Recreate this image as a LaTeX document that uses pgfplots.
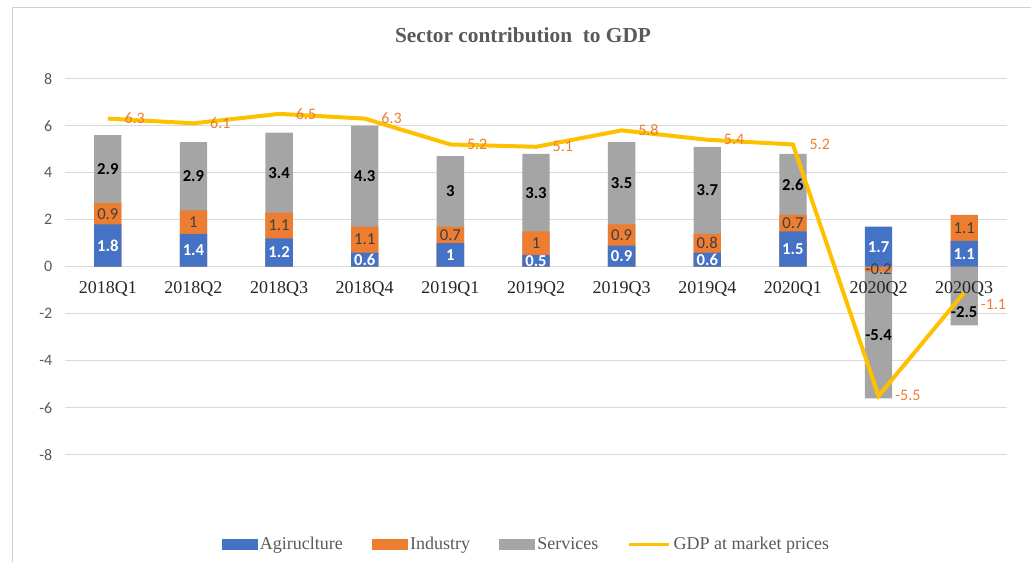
\documentclass[border=0pt]{standalone}
\usepackage{pgfplots}
\pgfplotsset{compat=1.18}
\usepackage{pgfplotstable}
\usepackage{fontspec}
\setmainfont{Liberation Serif}
\newfontfamily\carlito{Carlito}
\definecolor{cblue}{HTML}{4472C4}
\definecolor{corange}{HTML}{ED7D31}
\definecolor{cgray}{HTML}{A5A5A5}
\definecolor{cgold}{HTML}{FFC000}
\definecolor{gridgray}{HTML}{D9D9D9}
\definecolor{txtgray}{HTML}{595959}
\definecolor{framegray}{HTML}{D0D0D0}
\definecolor{indtxt}{HTML}{404040}

\pgfplotstableread{
x q a i s g
0 2018Q1 1.8 0.9 2.9 6.3
1 2018Q2 1.4 1 2.9 6.1
2 2018Q3 1.2 1.1 3.4 6.5
3 2018Q4 0.6 1.1 4.3 6.3
4 2019Q1 1 0.7 3 5.2
5 2019Q2 0.5 1 3.3 5.1
6 2019Q3 0.9 0.9 3.5 5.8
7 2019Q4 0.6 0.8 3.7 5.4
8 2020Q1 1.5 0.7 2.6 5.2
9 2020Q2 1.7 -0.2 -5.4 -5.5
10 2020Q3 1.1 1.1 -2.5 -1.1
}\data

\begin{document}
\begin{tikzpicture}
\path[use as bounding box] (0pt,0pt) rectangle (773.25pt,421.5pt);
\draw[framegray, line width=0.75pt] (9.5pt,0pt) -- (9.5pt,416pt) -- (773.25pt,416pt);
\node[font=\bfseries\fontsize{16}{19}\selectfont, text=txtgray] at (392.25pt,395pt) {Sector contribution~ to GDP};
\begin{axis}[
  at={(48.75pt,80.5pt)}, anchor=south west,
  scale only axis, width=706.5pt, height=282pt,
  xmin=-0.5, xmax=10.5, ymin=-8, ymax=8,
  ytick={-8,-6,-4,-2,0,2,4,6,8},
  xtick=\empty,
  axis line style={draw=none},
  major tick length=0pt,
  ymajorgrids, grid style={color=gridgray, line width=1pt},
  /pgf/number format/assume math mode=true,
  yticklabel style={font=\carlito\fontsize{12}{14}\selectfont, text=txtgray, anchor=east, xshift=-6pt},
  clip=false,
  legend columns=-1,
  legend style={at={(0.4904,-0.2385)}, anchor=center, draw=none, fill=none,
    font=\fontsize{13.5}{15}\selectfont, text=txtgray,
    /tikz/every even column/.append style={column sep=20pt},
    nodes={inner sep=2pt}},
]
\addlegendimage{legend image code/.code={\fill[cblue] (0pt,-3.6pt) rectangle (26pt,3.6pt);}}
\addlegendentry{Agiruclture}
\addlegendimage{legend image code/.code={\fill[corange] (0pt,-3.6pt) rectangle (26pt,3.6pt);}}
\addlegendentry{Industry}
\addlegendimage{legend image code/.code={\fill[cgray] (0pt,-3.6pt) rectangle (26pt,3.6pt);}}
\addlegendentry{Services}
\addlegendimage{legend image code/.code={\draw[cgold, line width=2.5pt] (0pt,0pt) -- (30pt,0pt);}}
\addlegendentry{GDP at market prices}

% bars (stacked: positives upward, negatives downward)
\addplot[ybar, bar width=20.5pt, bar shift=0pt, fill=cgray, draw=none, forget plot]
  table[x=x, y expr={ifthenelse(\thisrow{s}>0, max(\thisrow{a},0)+max(\thisrow{i},0)+\thisrow{s}, min(\thisrow{a},0)+min(\thisrow{i},0)+\thisrow{s})}] {\data};
\addplot[ybar, bar width=20.5pt, bar shift=0pt, fill=corange, draw=none, forget plot]
  table[x=x, y expr={ifthenelse(\thisrow{i}>0, max(\thisrow{a},0)+\thisrow{i}, min(\thisrow{a},0)+\thisrow{i})}] {\data};
\addplot[ybar, bar width=20.5pt, bar shift=0pt, fill=cblue, draw=none, forget plot]
  table[x=x, y=a] {\data};

% segment labels
\addplot[only marks, mark=none, forget plot, nodes near coords, point meta=explicit symbolic,
  nodes near coords style={anchor=center, font=\carlito\bfseries\fontsize{12.5}{14}\selectfont, text=white}]
  table[x=x, y expr={\thisrow{a}/2}, meta=a] {\data};
\addplot[only marks, mark=none, forget plot, nodes near coords, point meta=explicit symbolic,
  nodes near coords style={anchor=center, font=\carlito\fontsize{12.5}{14}\selectfont, text=indtxt}]
  table[x=x, y expr={ifthenelse(\thisrow{i}>0, max(\thisrow{a},0)+\thisrow{i}/2, min(\thisrow{a},0)+\thisrow{i}/2)}, meta=i] {\data};
\addplot[only marks, mark=none, forget plot, restrict x to domain=0:9.5, nodes near coords, point meta=explicit symbolic,
  nodes near coords style={anchor=center, font=\carlito\bfseries\fontsize{12.5}{14}\selectfont, text=black}]
  table[x=x, y expr={ifthenelse(\thisrow{s}>0, max(\thisrow{a},0)+max(\thisrow{i},0)+\thisrow{s}/2, min(\thisrow{a},0)+min(\thisrow{i},0)+\thisrow{s}/2)}, meta=s] {\data};
\addplot[only marks, mark=none, forget plot, restrict x to domain=9.5:10.5, nodes near coords, point meta=explicit symbolic,
  nodes near coords style={anchor=center, yshift=-12pt, font=\carlito\bfseries\fontsize{12.5}{14}\selectfont, text=black}]
  table[x=x, y expr={ifthenelse(\thisrow{s}>0, max(\thisrow{a},0)+max(\thisrow{i},0)+\thisrow{s}/2, min(\thisrow{a},0)+min(\thisrow{i},0)+\thisrow{s}/2)}, meta=s] {\data};

% category labels (drawn over the bars, just below the zero line)
\addplot[only marks, mark=none, forget plot, nodes near coords, point meta=explicit symbolic,
  nodes near coords style={anchor=center, yshift=-17pt, font=\fontsize{13.5}{15}\selectfont, text=black!85}]
  table[x=x, y expr={0}, meta=q] {\data};

% GDP line
\addplot[cgold, line width=3pt, mark=none, forget plot]
  table[x=x, y=g] {\data};
% GDP labels
\addplot[only marks, mark=none, forget plot, restrict x to domain=0:9.5, nodes near coords, point meta=explicit symbolic,
  nodes near coords style={anchor=west, xshift=9pt, font=\carlito\fontsize{12}{14}\selectfont, text=corange}]
  table[x=x, y=g, meta=g] {\data};
\addplot[only marks, mark=none, forget plot, restrict x to domain=9.5:10.5, nodes near coords, point meta=explicit symbolic,
  nodes near coords style={anchor=west, xshift=9pt, yshift=-9pt, font=\carlito\fontsize{12}{14}\selectfont, text=corange}]
  table[x=x, y=g, meta=g] {\data};
\end{axis}
\end{tikzpicture}
\end{document}
